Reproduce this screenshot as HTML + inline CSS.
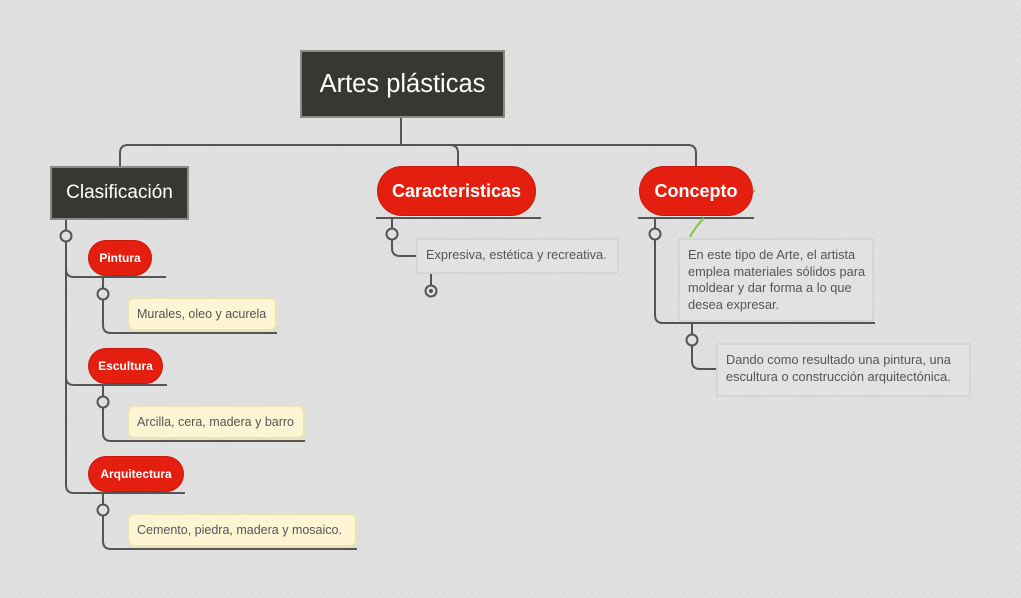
<!DOCTYPE html>
<html><head><meta charset="utf-8"><style>
body{margin:0;width:1021px;height:598px;overflow:hidden;background:#dedede;background-image:repeating-linear-gradient(135deg,rgba(255,255,255,.12) 0 2px,transparent 2px 5px);font-family:"Liberation Sans",sans-serif;position:relative}
.a{position:absolute;box-sizing:border-box}
.dark{background:#383833;border:2px solid #8a8a86;color:#fff;display:flex;align-items:center;justify-content:center}
.pill{background:#e51f0f;border:1px solid #c8180b;color:#fff;font-weight:bold;border-radius:20px;display:flex;align-items:center;justify-content:center}
.y{background:#fdf5d3;border:2px solid #ebe2b6;border-radius:7px;color:#555;font-size:12.5px;display:flex;align-items:center;padding-left:8px}
.g{background:#e2e2e2;border:2px solid #d6d6d6;color:#555;font-size:12.8px;padding:7px 8px;line-height:16.5px;white-space:nowrap}
svg{position:absolute;left:0;top:0}
</style></head><body>
<svg width="1021" height="598" fill="none" stroke="#555" stroke-width="2">
<path d="M401 117V145M120 166V153q0-8 8-8H688q8 0 8 8V166M450 145q8 0 8 8V166"/>
<path d="M376 218H541M638 218H754"/>
<path d="M66 219V485q0 8 8 8H185M66 269q0 8 8 8H166M66 377q0 8 8 8H167"/>
<path d="M103 277V325q0 8 8 8H277M103 385V433q0 8 8 8H305M103 493V541q0 8 8 8H357"/>
<path d="M392 218V248q0 8 8 8H416M431 273V286"/>
<path d="M655 218V315q0 8 8 8H875M692 323V361q0 8 8 8H716"/>
<g fill="#e0e0e0"><circle cx="66" cy="236" r="5.5"/><circle cx="103" cy="294" r="5.5"/><circle cx="103" cy="402" r="5.5"/><circle cx="103" cy="510" r="5.5"/><circle cx="392" cy="234" r="5.5"/><circle cx="655" cy="234" r="5.5"/><circle cx="692" cy="340" r="5.5"/><circle cx="431" cy="291" r="5.5"/></g>
<circle cx="431" cy="291" r="2" fill="#555" stroke="none"/>
<path d="M704 218Q696 226 690 237M752 193l3-3" stroke="#8bc34a"/>
</svg>
<div class="a dark" style="left:300px;top:50px;width:205px;height:68px;font-size:25.5px">Artes plásticas</div>
<div class="a dark" style="left:50px;top:166px;width:139px;height:54px;font-size:19px">Clasificación</div>
<div class="a pill" style="left:377px;top:166px;width:159px;height:50px;font-size:18px;border-radius:25px">Caracteristicas</div>
<div class="a pill" style="left:639px;top:166px;width:114px;height:50px;font-size:18px;border-radius:25px">Concepto</div>
<div class="a pill" style="left:88px;top:240px;width:64px;height:36px;font-size:12px">Pintura</div>
<div class="a pill" style="left:88px;top:348px;width:75px;height:36px;font-size:12px">Escultura</div>
<div class="a pill" style="left:88px;top:456px;width:96px;height:36px;font-size:12px">Arquitectura</div>
<div class="a y" style="left:127px;top:297px;width:150px;height:34px">Murales, oleo y acurela</div>
<div class="a y" style="left:127px;top:405px;width:178px;height:34px">Arcilla, cera, madera y barro</div>
<div class="a y" style="left:127px;top:513px;width:230px;height:34px">Cemento, piedra, madera y mosaico.</div>
<div class="a g" style="left:416px;top:238px;width:203px;height:36px">Expresiva, estética y recreativa.</div>
<div class="a g" style="left:678px;top:238px;width:196px;height:84px">En este tipo de Arte, el artista<br>emplea materiales sólidos para<br>moldear y dar forma a lo que<br>desea expresar.</div>
<div class="a g" style="left:716px;top:343px;width:255px;height:54px">Dando como resultado una pintura, una<br>escultura o construcción arquitectónica.</div>
</body></html>
